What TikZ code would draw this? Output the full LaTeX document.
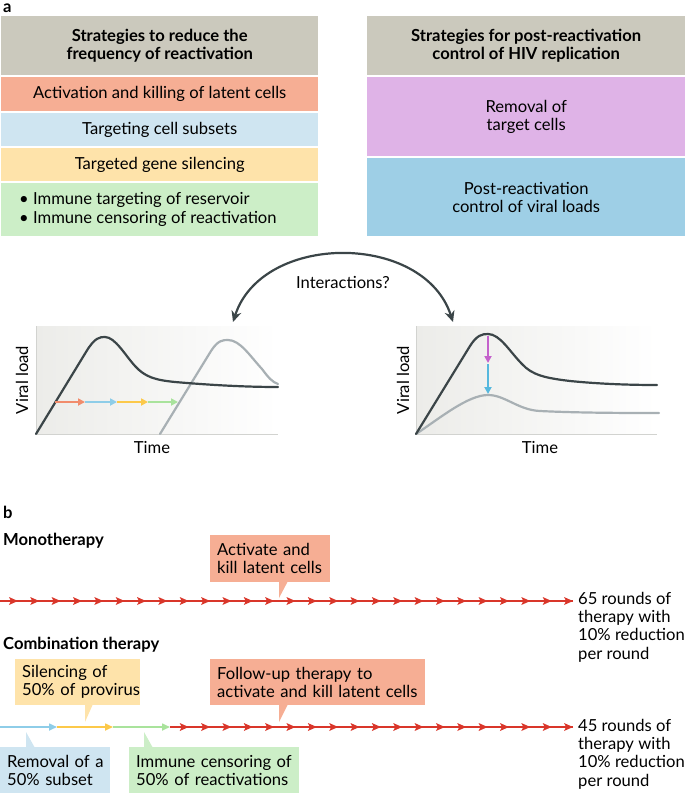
\documentclass[tikz,border=0pt]{standalone}
\usepackage{fontspec}
\setmainfont{Lato}
\usetikzlibrary{arrows.meta}
\definecolor{hdr}{HTML}{CBC9BD}
\definecolor{bRed}{HTML}{F6AE94}
\definecolor{bBlue}{HTML}{CFE5F1}
\definecolor{bYel}{HTML}{FEE3AA}
\definecolor{bGrn}{HTML}{CCEEC7}
\definecolor{bPur}{HTML}{DFB3E7}
\definecolor{bBlu2}{HTML}{9ECFE6}
\definecolor{dark}{HTML}{3B4548}
\definecolor{curveGray}{HTML}{A8B0B4}
\definecolor{axisGray}{HTML}{D2D3D0}
\definecolor{arrRed}{HTML}{D9362A}
\definecolor{aOr}{HTML}{F18C6C}
\definecolor{aBl}{HTML}{8ECDE8}
\definecolor{aYe}{HTML}{FCC94A}
\definecolor{aGr}{HTML}{A9E39C}
\definecolor{aMag}{HTML}{C462CC}
\definecolor{aCy}{HTML}{56B8DE}
\definecolor{plotBg}{HTML}{ECECE9}
\begin{document}
\begin{tikzpicture}[x=1pt,y=-1pt,
  txt/.style={font=\fontsize{16.6}{18.2}\selectfont, inner sep=0pt},
  btxt/.style={font=\fontsize{16.6}{18.2}\selectfont\bfseries, inner sep=0pt},
  band/.style={txt, anchor=north west, align=center},
  bband/.style={btxt, anchor=north west, align=center},
  callout/.style={txt, anchor=north west, align=left, inner xsep=7pt, inner ysep=0pt},
  axisline/.style={axisGray, line width=1},
  blackcurve/.style={dark, line width=2.2, line cap=round},
  graycurve/.style={curveGray, line width=2.2, line cap=round},
  miniarrow/.style={line width=1.8, -{Triangle[length=7,width=7]}},
  segarrow/.style={line width=1.6, -{Triangle[length=8,width=7]}},
  bigarc/.style={dark, line width=2.2, {Stealth[length=11,width=10]}-{Stealth[length=11,width=10]}},
  rowline/.style={arrRed, line width=1.6},
]
\path[use as bounding box] (0,0) rectangle (685,793);

% ---------- panel a ----------
\node[btxt, anchor=west] (la) at (3,8) {a};

\node[bband, fill=hdr, minimum width=317, minimum height=59] (L0) at (1,16) {Strategies to reduce the\\frequency of reactivation};
\node[band, fill=bRed, minimum width=317, minimum height=34] (L1) at (1,77) {Activation and killing of latent cells};
\node[band, fill=bBlue, minimum width=317, minimum height=33] (L2) at (1,113) {Targeting cell subsets};
\node[band, fill=bYel, minimum width=317, minimum height=33] (L3) at (1,148) {Targeted gene silencing};
\node[band, fill=bGrn, minimum width=317, minimum height=53] (L4) at (1,183) {};
\node[txt, anchor=west, align=left] (L4t) at (19,209.5) {\textbullet\ Immune targeting of reservoir\\\textbullet\ Immune censoring of reactivation};

\node[bband, fill=hdr, minimum width=318, minimum height=59] (R0) at (367,16) {Strategies for post-reactivation\\control of HIV replication};
\node[band, fill=bPur, minimum width=318, minimum height=79] (R1) at (367,77) {Removal of\\target cells};
\node[band, fill=bBlu2, minimum width=318, minimum height=78] (R2) at (367,158) {Post-reactivation\\control of viral loads};

% interactions arc
\coordinate (ia) at (233,322);
\coordinate (ib) at (453,322);
\draw[bigarc] (ia) .. controls (262,232) and (424,232) .. (ib);
\node[txt] (inter) at (343,282) {Interactions?};

% left plot
\shade[left color=plotBg, right color=white] (36,326) rectangle (278,434);
\draw[axisline] (36,326) -- (36,434) -- (278,434);
\draw[graycurve] (160,434) -- (211,351) .. controls (218,340) and (223,340) .. (228,340)
  .. controls (240,340) and (250,356) .. (262,369) .. controls (268,377) and (272,382) .. (278,384);
\draw[blackcurve] (36,434) -- (86,352) .. controls (95,337) and (100,337) .. (105,337)
  .. controls (115,337) and (125,355) .. (135,366) .. controls (145,377) and (155,380) .. (175,382)
  .. controls (210,385) and (245,387) .. (278,387);
\draw[miniarrow, aOr] (55,402) -- (85,402);
\draw[miniarrow, aBl] (85,402) -- (117,402);
\draw[miniarrow, aYe] (117,402) -- (148,402);
\draw[miniarrow, aGr] (148,402) -- (178,402);
\node[txt, rotate=90] (vl1) at (22,380) {Viral load};
\node[txt] (t1) at (152,447) {Time};

% right plot
\shade[left color=plotBg, right color=white] (416,326) rectangle (657,434);
\draw[axisline] (416,326) -- (416,434) -- (657,434);
\draw[graycurve] (416,434) .. controls (440,418) and (468,395) .. (488,395)
  .. controls (505,395) and (518,410) .. (540,411) .. controls (580,413) and (630,413) .. (659,413);
\draw[blackcurve] (416,434) -- (470,346) .. controls (477,335) and (482,334) .. (488,334)
  .. controls (500,334) and (510,352) .. (522,364) .. controls (532,375) and (545,378) .. (570,381)
  .. controls (600,384) and (630,385) .. (657,385);
\draw[miniarrow, aMag] (488,336) -- (488,363);
\draw[miniarrow, aCy] (488,364) -- (488,394);
\node[txt, rotate=90] (vl2) at (403,380) {Viral load};
\node[txt] (t2) at (540,447) {Time};

% ---------- panel b ----------
\node[btxt, anchor=west] (lb) at (3,512) {b};
\node[btxt, anchor=west] (mono) at (3,541) {Monotherapy};

\node[callout, fill=bRed, text width=106, minimum height=47] (c1) at (210,535) {\mbox{Activate and}\\\mbox{kill latent cells}};
\fill[bRed] (279,581) -- (288,581) -- (279,598) -- cycle;

\coordinate (m0) at (0,601);
\coordinate (m1) at (573,601);
\draw[rowline] (m0) -- (m1);
\foreach \k in {0,...,26}
  \fill[arrRed] ({573-21.35*\k},601) -- ++(-9,-4) -- ++(2,4) -- ++(-2,4) -- cycle;
\node[txt, anchor=north west, align=left] (r65) at (578,592) {65 rounds of\\therapy with\\10\% reduction\\per round};

\node[btxt, anchor=west] (comb) at (3,645) {Combination therapy};

\node[callout, fill=bYel, text width=111, minimum height=46] (c2) at (15,659) {\mbox{Silencing of}\\\mbox{50\% of provirus}};
\fill[bYel] (85,704) -- (93,704) -- (85,722) -- cycle;
\node[callout, fill=bRed, text width=201, minimum height=46] (c3) at (210,659) {\mbox{Follow-up therapy to}\\\mbox{activate and kill latent cells}};
\fill[bRed] (279,704) -- (288,704) -- (279,722) -- cycle;

\coordinate (n0) at (0,727);
\coordinate (n1) at (57,727);
\coordinate (n2) at (113,727);
\coordinate (n3) at (170,727);
\coordinate (n4) at (573,727);
\draw[segarrow, aBl] (n0) -- (n1);
\draw[segarrow, aYe] (n1) -- (n2);
\draw[segarrow, aGr] (n2) -- (n3);
\draw[rowline] (n3) -- (n4);
\foreach \k in {0,...,18}
  \fill[arrRed] ({573-21.35*\k},727) -- ++(-9,-4) -- ++(2,4) -- ++(-2,4) -- cycle;
\node[txt, anchor=north west, align=left] (r45) at (578,719) {45 rounds of\\therapy with\\10\% reduction\\per round};

\fill[bBlue] (26,748) -- (35,748) -- (26,732) -- cycle;
\node[callout, fill=bBlue, text width=96, minimum height=46] (c4) at (0,747) {\mbox{Removal of a}\\\mbox{50\% subset}};
\fill[bGrn] (144,748) -- (153,748) -- (144,732) -- cycle;
\node[callout, fill=bGrn, text width=156, minimum height=46] (c5) at (129,747) {\mbox{Immune censoring of}\\\mbox{50\% of reactivations}};
\end{tikzpicture}
\end{document}
